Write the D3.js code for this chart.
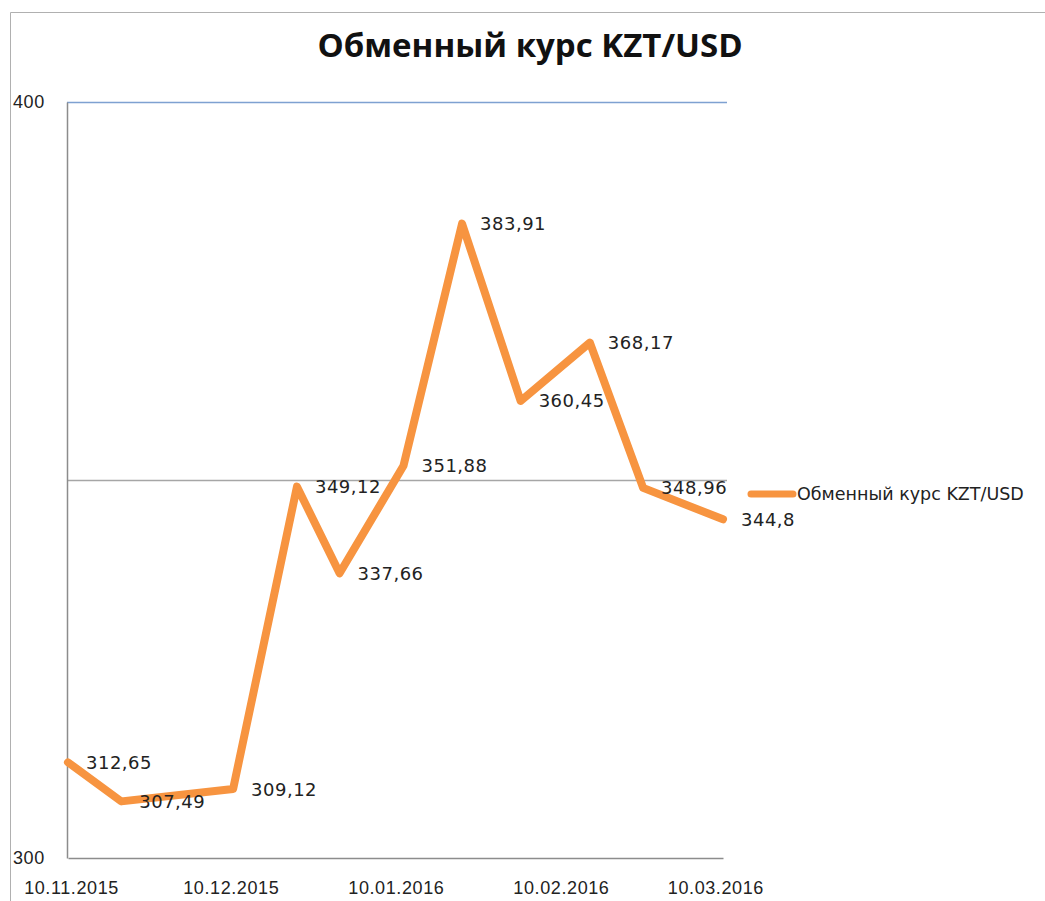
<!DOCTYPE html>
<html>
<head>
<meta charset="utf-8">
<script src="https://cdn.jsdelivr.net/npm/d3@7"></script>
<style>
  body { margin: 0; background: #fff; }
  svg { display: block; }
</style>
</head>
<body>
<div id="chart"></div>
<script>
// Обменный курс KZT/USD - line chart with data labels

const title = "Обменный курс KZT/USD";
const seriesName = "Обменный курс KZT/USD";
const dates = ["10.11.2015", "20.11.2015", "11.12.2015", "23.12.2015", "31.12.2015",
               "12.01.2016", "23.01.2016", "03.02.2016", "16.02.2016", "26.02.2016", "12.03.2016"];
const rates = [312.65, 307.49, 309.12, 349.12, 337.66, 351.88, 383.91, 360.45, 368.17, 348.96, 344.8];
const tickDates = ["10.11.2015", "10.12.2015", "10.01.2016", "10.02.2016", "10.03.2016"];
const yTicks = [300, 400];
const yGrid = [350, 400];

const parse = d3.utcParse("%d.%m.%Y");
const fmtDate = d3.utcFormat("%d.%m.%Y");
const fmtVal = v => String(v).replace(".", ",");

const data = dates.map((d, i) => ({ date: parse(d), value: rates[i] }));

// 1. Setup
const width = 1045, height = 901;
const margin = { top: 102, right: 318, bottom: 43, left: 67 };
const innerWidth = width - margin.left - margin.right;
const innerHeight = height - margin.top - margin.bottom;

const svg = d3.select("#chart").append("svg")
    .attr("width", width)
    .attr("height", height)
    .style("font-family", "'DejaVu Sans', Verdana, sans-serif");

// outer chart border (only top and left edges are inside the picture)
svg.append("path")
    .attr("d", `M10.5,${height}V12.5H${width}`)
    .attr("fill", "none")
    .attr("stroke", "#b0b0b0");

svg.append("text")
    .attr("x", 530).attr("y", 57)
    .attr("text-anchor", "middle")
    .style("font-family", "'Open Sans', 'Noto Sans', sans-serif")
    .style("font-weight", "bold")
    .style("font-size", "33px")
    .attr("fill", "#111")
    .text(title);

const g = svg.append("g").attr("transform", `translate(${margin.left},${margin.top})`);

// 2. Scales
const x = d3.scaleUtc()
    .domain([parse(dates[0]), parse(dates[dates.length - 1])])
    .range([1, 656]);

const y = d3.scaleLinear()
    .domain([300, 400])
    .range([innerHeight, 0]);

// 3. Grid lines
g.selectAll(".grid")
    .data(yGrid)
    .enter().append("line")
    .attr("x1", 0).attr("x2", innerWidth)
    .attr("y1", d => Math.round(y(d)) + 0.5).attr("y2", d => Math.round(y(d)) + 0.5)
    .attr("stroke", d => d === 400 ? "#7ea1d1" : "#a6a6a6")
    .attr("stroke-width", 1.5);

// 4. Axes
const xAxis = g.append("g")
    .attr("transform", `translate(0,${innerHeight})`)
    .call(d3.axisBottom(x).tickValues(tickDates.map(parse)).tickFormat(fmtDate).tickSize(0))
    .call(a => a.select(".domain").attr("stroke", "#8c8c8c").attr("stroke-width", 1.5));
xAxis.selectAll("text")
    .attr("y", 36).attr("dy", "0").attr("dx", 3)
    .style("font-size", "18px")
    .style("letter-spacing", "0.6px")
    .attr("fill", "#222");

const yAxis = g.append("g")
    .call(d3.axisLeft(y).tickValues(yTicks).tickSize(0).tickFormat(d3.format("d")))
    .call(a => a.select(".domain").attr("stroke", "#8c8c8c").attr("stroke-width", 1.5));
yAxis.selectAll("text")
    .attr("x", 13 - margin.left)
    .attr("text-anchor", "start")
    .style("font-size", "18px")
    .style("letter-spacing", "0.6px")
    .attr("fill", "#222");

// 5. Line
const line = d3.line()
    .x(d => x(d.date))
    .y(d => y(d.value));

g.append("path")
    .datum(data)
    .attr("d", line)
    .attr("fill", "none")
    .attr("stroke", "#f79440")
    .attr("stroke-width", 8)
    .attr("stroke-linejoin", "round")
    .attr("stroke-linecap", "round");

// 6. Data labels
g.selectAll(".lbl")
    .data(data)
    .enter().append("text")
    .attr("x", d => x(d.date) + 18)
    .attr("y", d => y(d.value))
    .attr("dy", "0.36em")
    .style("font-size", "18px")
    .style("letter-spacing", "0.5px")
    .attr("fill", "#222")
    .text(d => fmtVal(d.value));

// 7. Legend
const legend = svg.append("g").attr("transform", "translate(748,494)");
legend.append("line")
    .attr("x1", 3).attr("x2", 45)
    .attr("stroke", "#f79440")
    .attr("stroke-width", 7)
    .attr("stroke-linecap", "round");
legend.append("text")
    .attr("x", 49).attr("dy", "0.36em")
    .style("font-size", "17.5px")
    .attr("fill", "#222")
    .text(seriesName);
</script>
</body>
</html>
